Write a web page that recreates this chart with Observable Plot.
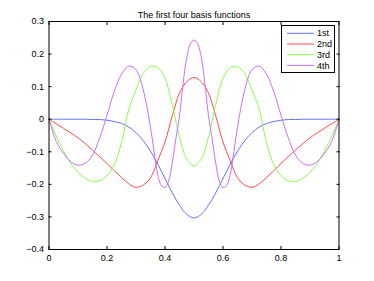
<!DOCTYPE html>
<html><head><meta charset="utf-8">
<script src="https://cdn.jsdelivr.net/npm/d3@7"></script>
<script src="https://cdn.jsdelivr.net/npm/@observablehq/plot@0.6"></script>
<style>
body{margin:0;background:#fff;font-family:"Liberation Sans",Arial,sans-serif;}
#wrap{position:relative;width:374px;height:281px;}
#legend{position:absolute;left:281px;top:25px;width:52px;height:46px;border:1px solid #000;background:#fff;font-size:9px;color:#000;}
#legend svg{position:absolute;left:0;top:0;}
</style></head><body><div id="wrap"></div>
<script>
const title = "The first four basis functions";
const seriesNames = ["1st", "2nd", "3rd", "4th"];
const seriesColors = ["#6373ff", "#ff4a4a", "#86ff4a", "#cc6dff"];
const xTicks = [0, 0.2, 0.4, 0.6, 0.8, 1];
const yTicks = [-0.4, -0.3, -0.2, -0.1, 0, 0.1, 0.2, 0.3];

const xGrid = [0,0.025,0.05,0.075,0.1,0.125,0.15,0.175,0.2,0.225,0.25,0.275,0.3,0.325,0.35,0.375,0.4,0.425,0.45,0.475,0.5,
  0.525,0.55,0.575,0.6,0.625,0.65,0.675,0.7,0.725,0.75,0.775,0.8,0.825,0.85,0.875,0.9,0.925,0.95,0.975,1];
const first = [0,0,0,0,0,0,-0.001,-0.001,-0.003,-0.007,-0.013,-0.024,-0.041,-0.066,-0.098,-0.138,-0.182,-0.226,-0.264,-0.292,-0.303,
  -0.292,-0.264,-0.226,-0.182,-0.138,-0.098,-0.066,-0.041,-0.024,-0.013,-0.007,-0.003,-0.001,-0.001,0,0,0,0,0,0];
const second = [0,-0.014,-0.028,-0.042,-0.057,-0.075,-0.095,-0.115,-0.136,-0.158,-0.179,-0.198,-0.209,-0.202,-0.18,-0.127,-0.07,0.01,0.08,0.115,0.128,
  0.115,0.08,0.01,-0.07,-0.127,-0.18,-0.202,-0.209,-0.198,-0.179,-0.158,-0.136,-0.115,-0.095,-0.075,-0.057,-0.042,-0.028,-0.014,0];
const third = [0,-0.052,-0.097,-0.136,-0.163,-0.181,-0.191,-0.189,-0.173,-0.14,-0.072,0.03,0.09,0.14,0.162,0.158,0.125,0.045,-0.055,-0.122,-0.143,
  -0.122,-0.055,0.045,0.125,0.158,0.162,0.14,0.09,0.03,-0.072,-0.14,-0.173,-0.189,-0.191,-0.181,-0.163,-0.136,-0.097,-0.052,0];
const xFourth = [0,0.025,0.05,0.075,0.1,0.125,0.15,0.175,0.2,0.225,0.25,0.275,0.3,0.325,0.35,0.3625,0.375,0.3875,0.4,0.4125,0.425,0.4375,0.45,0.4625,0.475,0.4875,0.5,
  0.5125,0.525,0.5375,0.55,0.5625,0.575,0.5875,0.6,0.6125,0.625,0.6375,0.65,0.675,0.7,0.725,0.75,0.775,0.8,0.825,0.85,0.875,0.9,0.925,0.95,0.975,1];
const fourth = [0,-0.068,-0.105,-0.13,-0.141,-0.135,-0.11,-0.057,0.012,0.085,0.138,0.163,0.152,0.09,-0.025,-0.1,-0.17,-0.203,-0.21,-0.19,-0.135,-0.06,0.01,0.11,0.19,0.232,0.243,
  0.232,0.19,0.11,0.01,-0.06,-0.135,-0.19,-0.21,-0.203,-0.17,-0.1,-0.025,0.09,0.152,0.163,0.138,0.085,0.012,-0.057,-0.11,-0.135,-0.141,-0.13,-0.105,-0.068,0];

const data = [];
[first, second, third].forEach((vals, i) => vals.forEach((v, j) => data.push({x: xGrid[j], y: v, s: seriesNames[i]})));
fourth.forEach((v, j) => data.push({x: xFourth[j], y: v, s: seriesNames[3]}));

const fmt = d3.format("~g");
const blank = () => "";

const chart = Plot.plot({
  width: 374, height: 281,
  marginLeft: 48.5, marginRight: 35.5, marginTop: 21, marginBottom: 32,
  style: {fontSize: "9px", fontFamily: "'Liberation Sans', Arial, sans-serif", background: "#fff", color: "#000"},
  x: {domain: [0, 1]},
  y: {domain: [-0.4, 0.3]},
  color: {domain: seriesNames, range: seriesColors},
  marks: [
    Plot.line(data, {x: "x", y: "y", z: "s", stroke: "s", strokeWidth: 1, curve: "catmull-rom"}),
    Plot.frame({stroke: "#000", strokeWidth: 1}),
    Plot.axisX({ticks: xTicks, tickFormat: fmt, tickSize: -3, tickPadding: 8, label: null}),
    Plot.axisX({anchor: "top", ticks: xTicks, tickFormat: blank, tickSize: -3, label: null}),
    Plot.axisY({ticks: yTicks, tickFormat: fmt, tickSize: -3, tickPadding: 8, label: null}),
    Plot.axisY({anchor: "right", ticks: yTicks, tickFormat: blank, tickSize: -3, label: null}),
    Plot.text([title], {frameAnchor: "top", dy: -10, fontSize: 9})
  ]
});
const wrap = document.getElementById("wrap");
wrap.appendChild(chart);

const legend = document.createElement("div");
legend.id = "legend";
const ns = "http://www.w3.org/2000/svg";
const lsvg = document.createElementNS(ns, "svg");
lsvg.setAttribute("width", 52); lsvg.setAttribute("height", 46);
seriesNames.forEach((name, i) => {
  const cy = 7.3 + i * 10.7;
  const ln = document.createElementNS(ns, "line");
  ln.setAttribute("x1", 5); ln.setAttribute("x2", 32);
  ln.setAttribute("y1", cy); ln.setAttribute("y2", cy);
  ln.setAttribute("stroke", seriesColors[i]); ln.setAttribute("stroke-width", 1);
  lsvg.appendChild(ln);
  const t = document.createElementNS(ns, "text");
  t.setAttribute("x", 35); t.setAttribute("y", cy);
  t.setAttribute("dy", "0.35em");
  t.setAttribute("font-size", "9px");
  t.setAttribute("font-family", "'Liberation Sans', Arial, sans-serif");
  t.textContent = name;
  lsvg.appendChild(t);
});
legend.appendChild(lsvg);
wrap.appendChild(legend);
</script>
</body></html>
